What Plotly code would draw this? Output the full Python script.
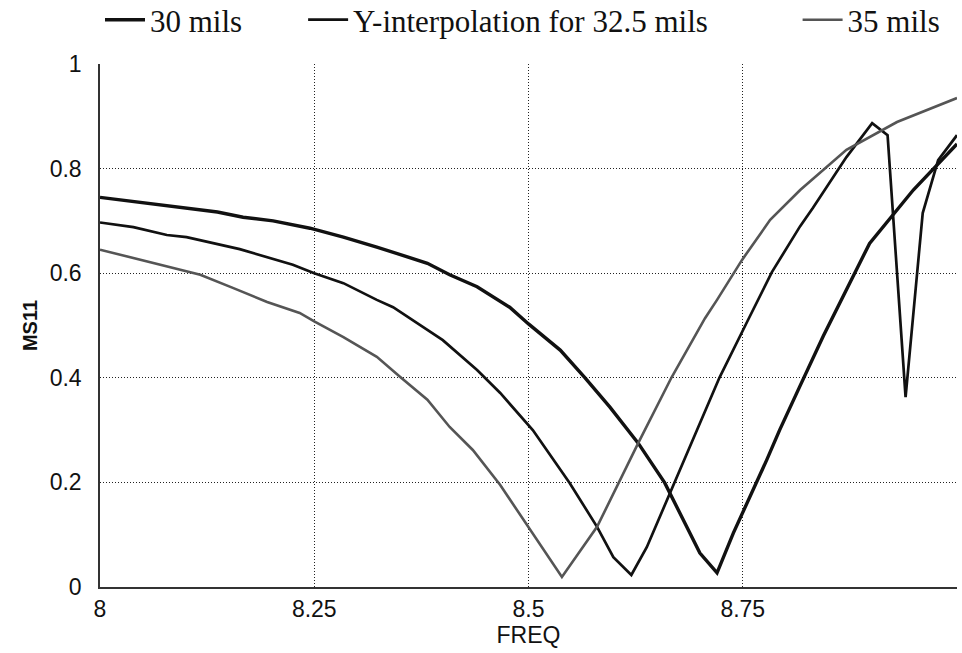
import plotly.graph_objects as go

# ---- data ----
freq_30 = [8.00, 8.04, 8.08, 8.137, 8.167, 8.202, 8.245, 8.284, 8.323, 8.382, 8.408, 8.44,
           8.478, 8.50, 8.537, 8.566, 8.595, 8.628, 8.659, 8.70, 8.72, 8.739, 8.778, 8.793,
           8.817, 8.844, 8.898, 8.949, 9.00]
ms11_30 = [0.745, 0.737, 0.729, 0.717, 0.707, 0.700, 0.686, 0.669, 0.650, 0.619, 0.597, 0.574,
           0.535, 0.503, 0.453, 0.400, 0.344, 0.275, 0.199, 0.065, 0.027, 0.103, 0.243, 0.300,
           0.385, 0.480, 0.657, 0.759, 0.847]

freq_interp = [8.00, 8.039, 8.078, 8.101, 8.163, 8.195, 8.225, 8.25, 8.284, 8.323, 8.342, 8.40,
               8.44, 8.467, 8.505, 8.548, 8.58, 8.599, 8.62, 8.638, 8.665, 8.723, 8.756, 8.784,
               8.817, 8.832, 8.871, 8.901, 8.919, 8.940, 8.960, 8.978, 9.00]
ms11_interp = [0.697, 0.688, 0.673, 0.669, 0.646, 0.631, 0.616, 0.600, 0.581, 0.549, 0.535, 0.472,
               0.415, 0.371, 0.300, 0.199, 0.115, 0.057, 0.023, 0.076, 0.180, 0.401, 0.510, 0.602,
               0.690, 0.725, 0.822, 0.887, 0.864, 0.363, 0.715, 0.816, 0.864]

freq_35 = [8.00, 8.058, 8.117, 8.155, 8.195, 8.233, 8.25, 8.284, 8.323, 8.35, 8.382, 8.408,
           8.435, 8.467, 8.502, 8.539, 8.58, 8.628, 8.667, 8.706, 8.72, 8.749, 8.782, 8.817,
           8.871, 8.93, 9.00]
ms11_35 = [0.645, 0.621, 0.597, 0.572, 0.545, 0.524, 0.508, 0.478, 0.440, 0.402, 0.358, 0.306,
           0.262, 0.195, 0.109, 0.019, 0.115, 0.275, 0.401, 0.514, 0.549, 0.625, 0.702, 0.759,
           0.836, 0.889, 0.935]

x_ticks = [8, 8.25, 8.5, 8.75, 9]
x_tick_text = ["8", "8.25", "8.5", "8.75", "9"]
y_ticks = [0, 0.2, 0.4, 0.6, 0.8, 1]
y_tick_text = ["0", "0.2", "0.4", "0.6", "0.8", "1"]

names = ["30 mils", "Y-interpolation for 32.5 mils", "35 mils"]

fig = go.Figure()
fig.add_trace(go.Scatter(x=freq_30, y=ms11_30, mode="lines", name=names[0], showlegend=True,
                         line=dict(color="#111111", width=3.4), legend="legend"))
fig.add_trace(go.Scatter(x=freq_interp, y=ms11_interp, mode="lines", name=names[1], showlegend=True,
                         line=dict(color="#111111", width=2.7), legend="legend2"))
fig.add_trace(go.Scatter(x=freq_35, y=ms11_35, mode="lines", name=names[2], showlegend=True,
                         line=dict(color="#555555", width=2.6), legend="legend3"))

leg_common = dict(orientation="h", yanchor="middle", y=1.084, xanchor="left",
                  bgcolor="rgba(0,0,0,0)", borderwidth=0, visible=True, itemwidth=40,
                  font=dict(family="Liberation Serif, Times New Roman, serif", size=31, color="#111"))

fig.update_layout(
    width=962, height=653,
    showlegend=True,
    margin=dict(l=100, r=5, t=64, b=66, autoexpand=False),
    paper_bgcolor="white", plot_bgcolor="white",
    legend=dict(x=0.0, **leg_common),
    legend2=dict(x=0.237, **leg_common),
    legend3=dict(x=0.814, **leg_common),
    font=dict(family="Liberation Sans, Arial, sans-serif", color="#111"),
)

grid = dict(showgrid=True, gridcolor="#222222", gridwidth=1, griddash="1px,2px",
            zeroline=False, showline=True, linecolor="#333333", linewidth=1.5,
            ticks="", tickfont=dict(size=23, color="#111"))

fig.update_xaxes(range=[8, 9], tickvals=x_ticks, ticktext=x_tick_text,
                 title=dict(text="FREQ", font=dict(size=23), standoff=3),
                 ticklabelstandoff=1, **grid)
fig.update_yaxes(range=[0, 1], tickvals=y_ticks, ticktext=y_tick_text,
                 title=dict(text="<b>MS11</b>", font=dict(size=20), standoff=7),
                 ticklabelstandoff=12, **grid)

fig.write_html("out.html")
